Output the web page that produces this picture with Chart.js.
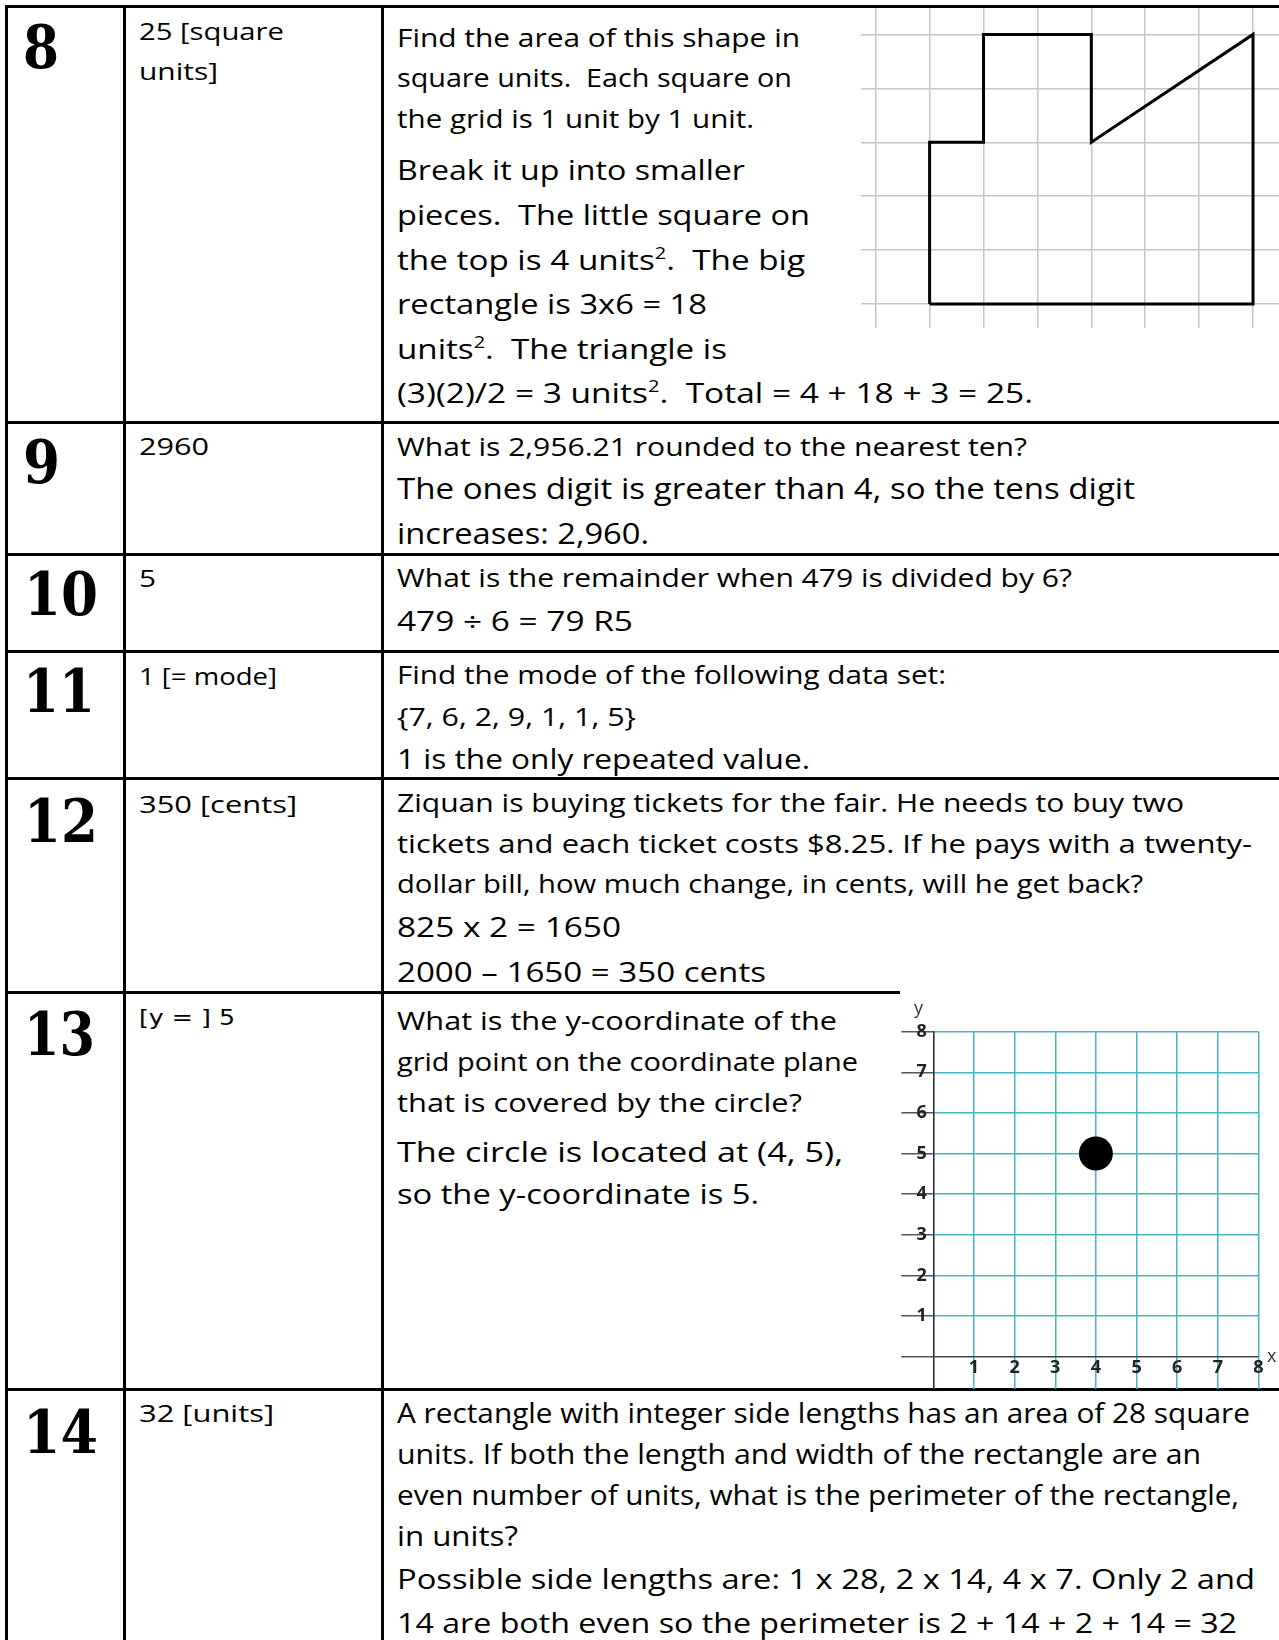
<!DOCTYPE html>
<html>
<head>
<meta charset="utf-8">
<title>Answer key 8-14</title>
<script src="https://cdn.jsdelivr.net/npm/chart.js@4.4.0/dist/chart.umd.min.js"></script>
<style>
  html, body { margin: 0; padding: 0; background: #fff; }
  #page { position: relative; width: 1279px; height: 1640px; overflow: hidden; background: #fff; }
  .h, .v { position: absolute; background: #000; }
  .h { height: 3px; }
  .v { width: 3px; }
  .t { position: absolute; white-space: pre; font-family: "Open Sans", sans-serif; color: #000;
       line-height: 1.2; transform-origin: 0 0; }
  .n { font-family: "DejaVu Serif", serif; font-weight: bold; }
  .d { font-family: "DejaVu Sans", sans-serif; }
  .ax { color: #333; }
  .t sup { font-size: 0.6em; line-height: 0; vertical-align: 0.65em; }
  .mk { display: inline-block; width: 0; height: 0; }
  .box { position: absolute; }
</style>
</head>
<body>
<div id="page">
  <!-- table rules -->
  <div class="h" style="left:5px;top:5px;width:1274px"></div>
  <div class="v" style="left:5px;top:5px;height:1635px"></div>
  <div class="v" style="left:123px;top:5px;height:1635px"></div>
  <div class="v" style="left:381px;top:5px;height:1635px"></div>
  <div class="h" style="left:5px;top:421px;width:1274px"></div>
  <div class="h" style="left:5px;top:553px;width:1274px"></div>
  <div class="h" style="left:5px;top:650px;width:1274px"></div>
  <div class="h" style="left:5px;top:777px;width:1274px"></div>
  <div class="h" style="left:5px;top:991px;width:895px"></div>
  <div class="h" style="left:5px;top:1388px;width:1274px"></div>

  <!-- question numbers -->
  <div class="t n" data-x="23" data-b="68" data-fs="59" data-r="59">8</div>
  <div class="t n" data-x="23" data-b="483" data-fs="59" data-r="60">9</div>
  <div class="t n" data-x="24" data-b="615" data-fs="59" data-r="98">10</div>
  <div class="t n" data-x="23" data-b="712" data-fs="59" data-r="95">11</div>
  <div class="t n" data-x="24" data-b="842" data-fs="59" data-r="98">12</div>
  <div class="t n" data-x="24" data-b="1055" data-fs="59" data-r="95">13</div>
  <div class="t n" data-x="23" data-b="1453" data-fs="59" data-r="98">14</div>

  <!-- answers -->
  <div class="t" data-x="139" data-b="40" data-fs="24" data-r="284">25 [square</div>
  <div class="t" data-x="139" data-b="80" data-fs="24" data-r="218">units]</div>
  <div class="t" data-x="139" data-b="455" data-fs="24" data-r="209">2960</div>
  <div class="t" data-x="139" data-b="587" data-fs="24" data-r="156">5</div>
  <div class="t" data-x="139" data-b="685" data-fs="24" data-r="277">1 [= mode]</div>
  <div class="t" data-x="139" data-b="813" data-fs="24" data-r="297">350 [cents]</div>
  <div class="t d" data-x="139" data-b="1025" data-fs="21" data-r="235">[y = ] 5</div>
  <div class="t" data-x="139" data-b="1422" data-fs="24" data-r="274">32 [units]</div>

  <!-- question 8 -->
  <div class="t" data-x="397" data-b="47" data-fs="26" data-r="800">Find the area of this shape in</div>
  <div class="t" data-x="397" data-b="87" data-fs="26" data-r="792">square units.  Each square on</div>
  <div class="t" data-x="397" data-b="128" data-fs="26" data-r="754">the grid is 1 unit by 1 unit.</div>
  <div class="t" data-x="397" data-b="180" data-fs="28" data-r="745">Break it up into smaller</div>
  <div class="t" data-x="397" data-b="225" data-fs="28" data-r="810">pieces.  The little square on</div>
  <div class="t" data-x="397" data-b="270" data-fs="28" data-r="805">the top is 4 units<sup>2</sup>.  The big</div>
  <div class="t" data-x="397" data-b="314" data-fs="28" data-r="707">rectangle is 3x6 = 18</div>
  <div class="t" data-x="397" data-b="359" data-fs="28" data-r="727">units<sup>2</sup>.  The triangle is</div>
  <div class="t" data-x="397" data-b="403" data-fs="28" data-r="1033">(3)(2)/2 = 3 units<sup>2</sup>.  Total = 4 + 18 + 3 = 25.</div>

  <!-- question 9 -->
  <div class="t" data-x="397" data-b="456" data-fs="26" data-r="1027">What is 2,956.21 rounded to the nearest ten?</div>
  <div class="t" data-x="397" data-b="499" data-fs="29" data-r="1135">The ones digit is greater than 4, so the tens digit</div>
  <div class="t" data-x="397" data-b="544" data-fs="29" data-r="649">increases: 2,960.</div>

  <!-- question 10 -->
  <div class="t" data-x="397" data-b="587" data-fs="26" data-r="1072">What is the remainder when 479 is divided by 6?</div>
  <div class="t" data-x="397" data-b="631" data-fs="27" data-r="633">479 ÷ 6 = 79 R5</div>

  <!-- question 11 -->
  <div class="t" data-x="397" data-b="684" data-fs="26" data-r="946">Find the mode of the following data set:</div>
  <div class="t" data-x="397" data-b="726" data-fs="26" data-r="636">{7, 6, 2, 9, 1, 1, 5}</div>
  <div class="t" data-x="397" data-b="769" data-fs="28" data-r="810">1 is the only repeated value.</div>

  <!-- question 12 -->
  <div class="t" data-x="397" data-b="812" data-fs="26" data-r="1184">Ziquan is buying tickets for the fair. He needs to buy two</div>
  <div class="t" data-x="397" data-b="853" data-fs="26" data-r="1252">tickets and each ticket costs $8.25. If he pays with a twenty-</div>
  <div class="t" data-x="397" data-b="893" data-fs="26" data-r="1143">dollar bill, how much change, in cents, will he get back?</div>
  <div class="t" data-x="397" data-b="937" data-fs="28" data-r="621">825 x 2 = 1650</div>
  <div class="t" data-x="397" data-b="982" data-fs="28" data-r="766">2000 – 1650 = 350 cents</div>

  <!-- question 13 -->
  <div class="t" data-x="397" data-b="1030" data-fs="26" data-r="837">What is the y-coordinate of the</div>
  <div class="t" data-x="397" data-b="1071" data-fs="26" data-r="858">grid point on the coordinate plane</div>
  <div class="t" data-x="397" data-b="1112" data-fs="26" data-r="802">that is covered by the circle?</div>
  <div class="t" data-x="397" data-b="1162" data-fs="28" data-r="843">The circle is located at (4, 5),</div>
  <div class="t" data-x="397" data-b="1204" data-fs="28" data-r="759">so the y-coordinate is 5.</div>

  <!-- question 14 -->
  <div class="t" data-x="397" data-b="1423" data-fs="27" data-r="1250">A rectangle with integer side lengths has an area of 28 square</div>
  <div class="t" data-x="397" data-b="1464" data-fs="27" data-r="1201">units. If both the length and width of the rectangle are an</div>
  <div class="t" data-x="397" data-b="1505" data-fs="27" data-r="1239">even number of units, what is the perimeter of the rectangle,</div>
  <div class="t" data-x="397" data-b="1546" data-fs="27" data-r="518">in units?</div>
  <div class="t" data-x="397" data-b="1589" data-fs="27" data-r="1255">Possible side lengths are: 1 x 28, 2 x 14, 4 x 7. Only 2 and</div>
  <div class="t" data-x="397" data-b="1633" data-fs="27" data-r="1237">14 are both even so the perimeter is 2 + 14 + 2 + 14 = 32</div>

  <!-- charts -->
  <div class="box" style="left:861px;top:8px;width:418px;height:320px"><canvas id="shapeChart"></canvas></div>
  <div class="box" style="left:895px;top:995px;width:384px;height:394px"><canvas id="planeChart"></canvas></div>
  <div class="t ax" data-x="914" data-b="1014" data-fs="18">y</div>
  <div class="t ax" data-x="1267" data-b="1362" data-fs="18">x</div>
</div>

<script>
// question 8: outline of the shape, grid units
const shapeX = [1, 1, 2, 2, 4, 4, 7, 7, 1];
const shapeY = [0, 3, 3, 5, 5, 3, 5, 0, 0];
const shapeGridX = [0, 1, 2, 3, 4, 5, 6, 7];
const shapeGridY = [0, 1, 2, 3, 4, 5];

// question 13: coordinate plane and the circle
const planeTicks = [0, 1, 2, 3, 4, 5, 6, 7, 8];
const planeLabels = ["", "1", "2", "3", "4", "5", "6", "7", "8"];
const circleX = [4];
const circleY = [5];

const teal = "#45b7c4";

function layoutText() {
    document.querySelectorAll(".t").forEach(el => {
        const fs = +el.dataset.fs;
        el.style.fontSize = fs + "px";
        el.style.left = el.dataset.x + "px";
        el.innerHTML = '<span class="in">' + el.innerHTML + '</span><span class="mk"></span>';
        const inner = el.querySelector(".in");
        const mk = el.querySelector(".mk");
        if (el.dataset.r) {
            const w = inner.getBoundingClientRect().width;
            const target = el.dataset.r - el.dataset.x;
            el.style.transform = "scaleX(" + (target / w).toFixed(4) + ")";
        }
        el.style.top = (el.dataset.b - mk.offsetTop) + "px";
    });
}

Chart.defaults.font.family = "'Open Sans', sans-serif";

function drawShape() {
    new Chart(document.getElementById("shapeChart"), {
        type: "scatter",
        data: {
            datasets: [{
                data: shapeX.map((x, i) => ({ x: x, y: shapeY[i] })),
                showLine: true,
                borderColor: "#000",
                borderWidth: 3,
                borderJoinStyle: "miter",
                pointRadius: 0,
                fill: false,
                tension: 0,
            }],
        },
        options: {
            responsive: true,
            maintainAspectRatio: false,
            animation: false,
            layout: { padding: 0, autoPadding: false },
            plugins: { legend: { display: false }, tooltip: { enabled: false } },
            scales: {
                x: {
                    type: "linear",
                    min: -0.273,
                    max: 7.482,
                    afterBuildTicks: s => { s.ticks = shapeGridX.map(v => ({ value: v })); },
                    ticks: { display: false },
                    grid: { color: "#c6c6c6", lineWidth: 1.5, drawTicks: false },
                    border: { display: false },
                },
                y: {
                    type: "linear",
                    min: -0.445,
                    max: 5.49,
                    afterBuildTicks: s => { s.ticks = shapeGridY.map(v => ({ value: v })); },
                    ticks: { display: false },
                    grid: { color: "#c6c6c6", lineWidth: 1.5, drawTicks: false },
                    border: { display: false },
                },
            },
        },
    });
}

function drawPlane() {
    const tickFont = { size: 18, weight: "bold" };
    new Chart(document.getElementById("planeChart"), {
        type: "scatter",
        data: {
            datasets: [{
                data: circleX.map((x, i) => ({ x: x, y: circleY[i] })),
                backgroundColor: "#000",
                borderWidth: 0,
                pointRadius: 17,
                pointHoverRadius: 17,
            }],
        },
        options: {
            responsive: true,
            maintainAspectRatio: false,
            animation: false,
            layout: { padding: { top: 36.7, right: 20.5, bottom: 0, left: 0 }, autoPadding: false },
            plugins: { legend: { display: false }, tooltip: { enabled: false } },
            scales: {
                x: {
                    type: "linear",
                    position: { y: 0 },
                    min: 0,
                    max: 8,
                    afterBuildTicks: s => { s.ticks = planeTicks.map(v => ({ value: v })); },
                    ticks: {
                        padding: 0,
                        color: "#222",
                        font: tickFont,
                        autoSkip: false,
                        maxRotation: 0,
                        callback: (v, i) => planeLabels[i],
                    },
                    grid: { color: teal, lineWidth: 1.5, drawTicks: false },
                    border: { display: false },
                },
                y: {
                    type: "linear",
                    position: "left",
                    min: -0.795,
                    max: 8,
                    afterBuildTicks: s => { s.ticks = planeTicks.map(v => ({ value: v })); },
                    afterFit: s => { s.width = 38.3; },
                    ticks: {
                        padding: -25.5,
                        color: "#222",
                        font: tickFont,
                        autoSkip: false,
                        callback: (v, i) => planeLabels[i],
                    },
                    grid: {
                        color: c => (c.tick && c.tick.value === 0 ? "#444" : teal),
                        lineWidth: 1.5,
                        drawTicks: true,
                        tickLength: 32,
                        tickColor: "#555",
                    },
                    border: { display: true, color: "#333", width: 1.5 },
                },
            },
        },
    });
}

document.fonts.ready.then(() => {
    layoutText();
    drawShape();
    drawPlane();
});
</script>
</body>
</html>
